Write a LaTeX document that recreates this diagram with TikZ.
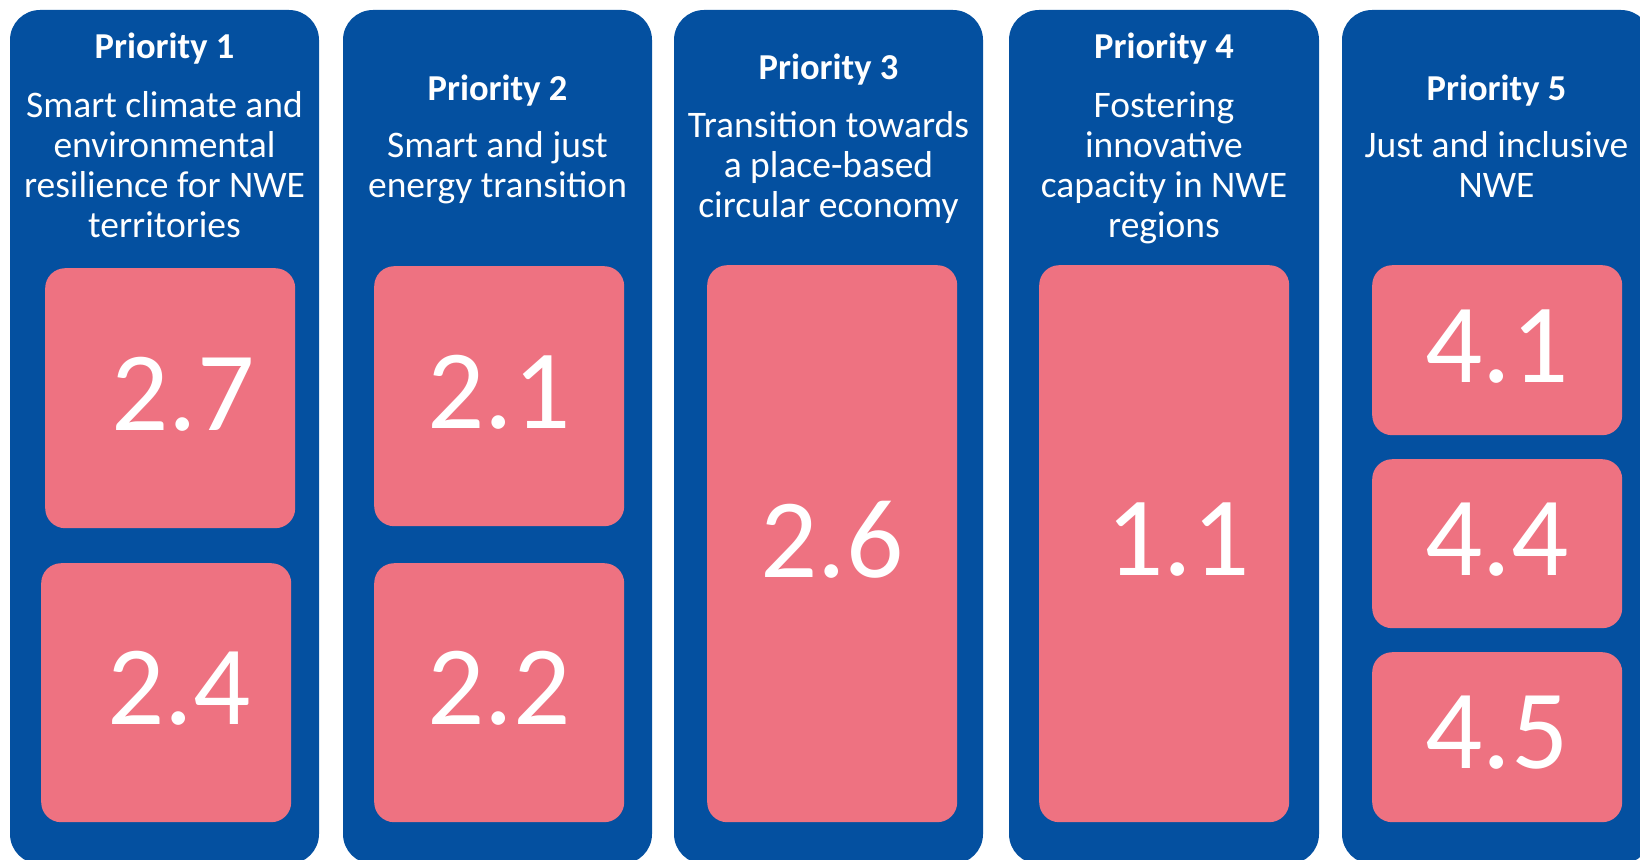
\documentclass[tikz,border=0pt]{standalone}
\usepackage{fontspec}
\setmainfont{Carlito}
\definecolor{nweblue}{RGB}{4,80,160}
\definecolor{nwepink}{RGB}{238,114,129}

\begin{document}
\begin{tikzpicture}[x=1pt, y=-1pt,
		panel/.style={fill=nweblue, draw=none, rounded corners=30pt},
		spec/.style={fill=nwepink, draw=none, rounded corners=20pt, anchor=north west, inner sep=0pt, minimum width=250pt, text=white, text depth=9pt, font=\fontsize{113}{120}\selectfont},
		prio/.style={text=white, anchor=base, inner sep=0pt, font=\fontsize{36.5}{40}\bfseries\selectfont},
		aim/.style={text=white, anchor=base, inner sep=0pt, align=center, font=\fontsize{37.5}{40}\selectfont}]
	\clip (0,0) rectangle (1640,859);

	% priority columns
	\fill[panel] (10,10) rectangle (319,864);
	\fill[panel] (343,10) rectangle (652,864);
	\fill[panel] (674,10) rectangle (983,864);
	\fill[panel] (1009,10) rectangle (1319,864);
	\fill[panel] (1342,10) rectangle (1651,864);

	% headings (aim nodes sit on their last line)
	\node (prio1) [prio] at (164.5,59) {Priority 1};
	\node (aim1) [aim] at (164.5,237) {Smart climate and\\environmental\\resilience for NWE\\territories};

	\node (prio2) [prio] at (497.5,100) {Priority 2};
	\node (aim2) [aim] at (497.5,197) {Smart and just\\energy transition};

	\node (prio3) [prio] at (828.5,79) {Priority 3};
	\node (aim3) [aim] at (828.5,217) {Transition towards\\a place-based\\circular economy};

	\node (prio4) [prio] at (1164,59) {Priority 4};
	\node (aim4) [aim] at (1164,237) {Fostering\\innovative\\capacity in NWE\\regions};

	\node (prio5) [prio] at (1496.5,100) {Priority 5};
	\node (aim5) [aim] at (1496.5,197) {Just and inclusive\\NWE};

	% specific objectives
	\node (so27) [spec, minimum height=260pt] at (45,268) {\hspace*{26pt}2.7};
	\node (so24) [spec, minimum height=259pt] at (41,563) {\hspace*{26pt}2.4};

	\node (so21) [spec, minimum height=260pt] at (374,266) {2.1};
	\node (so22) [spec, minimum height=259pt] at (374,563) {2.2};

	\node (so26) [spec, minimum height=557pt] at (707,265) {2.6};

	\node (so11) [spec, minimum height=557pt] at (1039,265) {\hspace*{28pt}1.1};

	\node (so41) [spec, minimum height=170pt] at (1372,265) {4.1};
	\node (so44) [spec, minimum height=169pt] at (1372,459) {4.4};
	\node (so45) [spec, minimum height=170pt] at (1372,652) {4.5};

\end{tikzpicture}
\end{document}
